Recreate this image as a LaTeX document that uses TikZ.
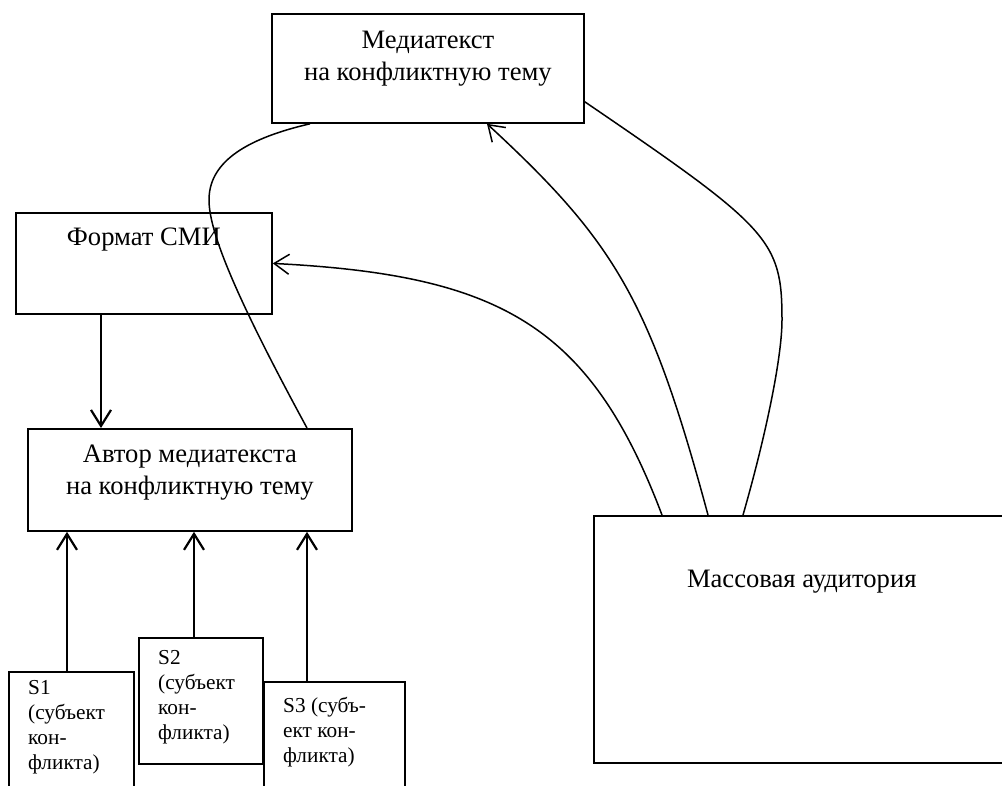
\documentclass[tikz,border=0pt]{standalone}
\usepackage{fontspec}
\setmainfont{Liberation Serif}
\usetikzlibrary{calc,positioning,arrows.meta}

\begin{document}
\begin{tikzpicture}[x=1pt,y=-1pt,
    box/.style={draw, line width=1.8pt, inner sep=0pt, anchor=north west},
    txt/.style={inner sep=0pt, align=center, font=\fontsize{26.6}{32}\selectfont},
    stxt/.style={inner sep=0pt, align=left, font=\fontsize{21.3}{25}\selectfont},
    arr/.style={line width=2.2pt, -{Straight Barb[length=16pt,width=20pt]}},
    carr/.style={line width=1.5pt, -{Straight Barb[length=15pt,width=20pt]}},
    link/.style={line width=1.5pt}]
    \useasboundingbox[fill=white] (0,0) rectangle (1002,785);
    \node[box, minimum width=312pt, minimum height=109pt] at (271,13) (media) {};
    \node[box, minimum width=256pt, minimum height=101pt] at (15,212) (format) {};
    \node[box, minimum width=324pt, minimum height=102pt] at (27,428) (author) {};
    \node[box, line width=1.5pt, minimum width=416pt, minimum height=247pt] at (593,515) (massa) {};
    \node[box, line width=1.5pt, minimum width=125pt, minimum height=135pt] at (8,671) (s1) {};
    \node[box, line width=1.5pt, minimum width=124pt, minimum height=126pt] at (138,637) (s2) {};
    \node[box, line width=1.5pt, minimum width=141pt, minimum height=135pt] at (263,681) (s3) {};
    % texts
    \node[txt, below=17.8pt of media.north] (mediatxt) {Медиатекст\\на конфликтную тему};
    \node[txt, below=15.5pt of format.north] (formattxt) {Формат СМИ};
    \node[txt, below=17.2pt of author.north] (authortxt) {Автор медиатекста\\на конфликтную тему};
    \node[txt, below=54.5pt of massa.north] (massatxt) {Массовая аудитория};
    \node[stxt, below right=9.6pt and 20pt of s1.north west] (s1txt) {S1\\(субъект\\кон-\\фликта)};
    \node[stxt, below right=13.6pt and 20pt of s2.north west] (s2txt) {S2\\(субъект\\кон-\\фликта)};
    \node[stxt, below right=16pt and 20pt of s3.north west] (s3txt) {S3 (субъ-\\ект кон-\\фликта)};
    % arrows
    \draw[arr] ($(format.south west)+(86,0)$) coordinate (f1) -- (f1 |- author.north);
    \draw[arr] ($(s1.north west)+(59,0)$) coordinate (t1) -- (t1 |- author.south);
    \draw[arr] ($(s2.north west)+(56,0)$) coordinate (t2) -- (t2 |- author.south);
    \draw[arr] ($(s3.north west)+(44,0)$) coordinate (t3) -- (t3 |- author.south);
    \draw[carr] ($(massa.north west)+(69,0)$) .. controls (590,325) and (500,275) .. (format.east);
    \draw[carr] ($(massa.north west)+(115,0)$) .. controls (650,300) and (615,242) .. ($(media.south west)+(216,0)$);
    \draw[link] ($(massa.north west)+(150,0)$) .. controls (766,435) and (782,357) .. (782,320)
        .. controls (782,240) and (770,228) .. ($(media.south east)+(0,-22)$);
    \draw[link] ($(author.north west)+(280,0)$) .. controls (238,301) and (209,233) .. (209,200)
        .. controls (209,165) and (240,140) .. ($(media.south west)+(39,0)$);
\end{tikzpicture}
\end{document}
